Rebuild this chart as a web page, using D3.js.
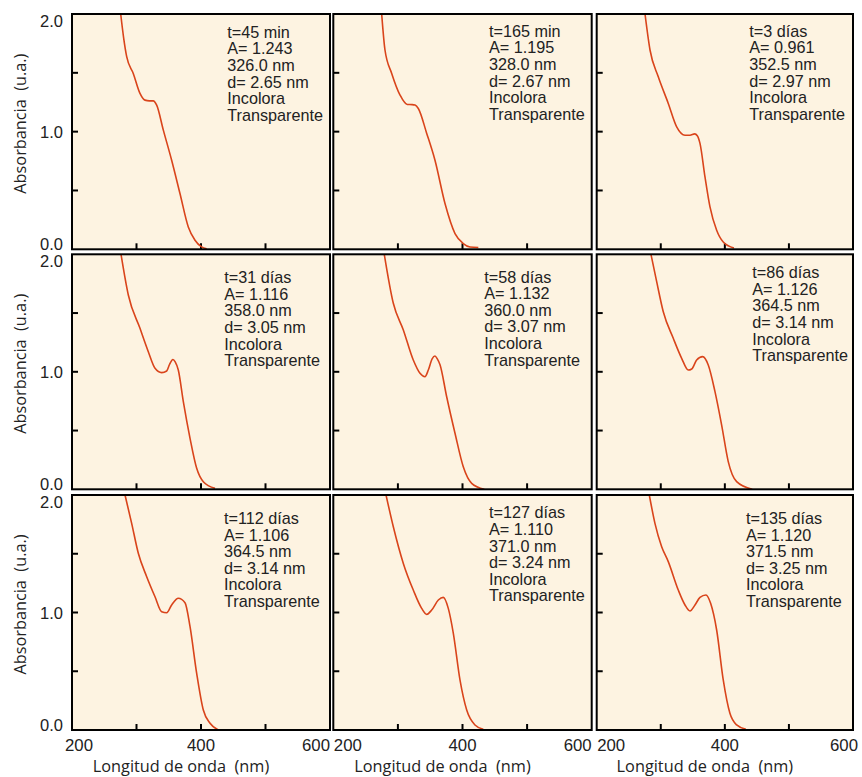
<!DOCTYPE html>
<html>
<head>
<meta charset="utf-8">
<script src="https://cdn.jsdelivr.net/npm/d3@7"></script>
<style>
  html, body { margin: 0; padding: 0; background: #ffffff; }
  svg { display: block; }
</style>
</head>
<body>
<div id="chart"></div>
<script>
// ---------------- DATA ----------------
const timeLabels = ["t=45 min", "t=165 min", "t=3 días", "t=31 días", "t=58 días", "t=86 días", "t=112 días", "t=127 días", "t=135 días"];
const peakAbs    = ["1.243", "1.195", "0.961", "1.116", "1.132", "1.126", "1.106", "1.110", "1.120"];
const peakNm     = ["326.0", "328.0", "352.5", "358.0", "360.0", "364.5", "364.5", "371.0", "371.5"];
const sizeNm     = ["2.65", "2.67", "2.97", "3.05", "3.07", "3.14", "3.14", "3.24", "3.25"];
const colorLabel = "Incolora";
const clarityLabel = "Transparente";
const xTitle = "Longitud de onda\u00A0\u00A0(nm)";
const yTitle = "Absorbancia\u00A0\u00A0(u.a.)";

const xTicksLabeled = [200, 400, 600];
const xTicksMinor = [300, 400, 500];
const yTicksLabeled = [0, 1, 2];
const yTicksMinor = [0.5, 1.0, 1.5];

// spectra: [wavelength (nm), absorbance]
const spec45min = [[275.5,2.0],[280,1.80],[284.8,1.637],[295,1.495],[305.4,1.325],[313.2,1.268],[320,1.262],[326,1.262],[331.3,1.225],[341.6,1.013],[354.5,0.757],[367.4,0.474],[380.3,0.19],[390.7,0.077],[401,0.02],[408.8,0.005]];
const spec165min = [[274.9,2.0],[280,1.694],[290.4,1.495],[303.3,1.311],[314.6,1.231],[322,1.230],[326.5,1.226],[331.6,1.197],[344.6,0.985],[357.4,0.757],[372.9,0.389],[388.4,0.134],[401.2,0.049],[411.6,0.02],[424.5,0.015]];
const spec3d   = [[275.4,2.0],[283.2,1.694],[296.1,1.466],[311.7,1.24],[324.8,1.041],[337.8,0.970],[345.6,0.97],[352.9,0.981],[357,0.965],[361.2,0.9],[369,0.615],[376.8,0.36],[387.2,0.162],[397.5,0.062],[414.2,0.011]];
const spec31d  = [[276,2.0],[287.3,1.654],[305.4,1.37],[318.3,1.171],[328.7,1.03],[339,0.993],[346.8,1.007],[351,1.06],[356.5,1.105],[360,1.085],[364.8,1.015],[372.6,0.746],[383,0.434],[393.3,0.179],[403.6,0.065],[421.7,0.009]];
const spec58d  = [[278.9,2.0],[292.9,1.583],[308.4,1.356],[323.8,1.1],[334.2,0.987],[341.9,0.958],[347.1,1.015],[353,1.11],[357.4,1.134],[361,1.11],[365.2,1.06],[375.5,0.788],[388.4,0.477],[401.2,0.192],[414.2,0.051],[433.7,0.0]];
const spec86d  = [[284.7,2.0],[293.6,1.767],[303.9,1.511],[319.5,1.285],[332.6,1.115],[342.9,1.015],[348.2,1.024],[356,1.1],[365.4,1.129],[374.1,1.058],[384.6,0.831],[395,0.547],[405.3,0.236],[418.4,0.065],[442.7,0.0]];
const spec112d = [[282.2,2.0],[292.5,1.759],[302.8,1.504],[315.8,1.305],[328.7,1.134],[339,1.007],[346.8,0.998],[354.5,1.064],[364.8,1.121],[375.2,1.083],[383,0.879],[393.3,0.482],[403.6,0.17],[414,0.057],[426.8,0.0]];
const spec127d = [[281.6,2.0],[292.9,1.73],[308.4,1.418],[323.8,1.191],[336.8,1.035],[344.6,0.984],[352.3,1.021],[362.6,1.106],[370.3,1.129],[378,1.035],[385.8,0.823],[396.1,0.426],[406.5,0.17],[419.3,0.043],[432.2,0.006]];
const spec135d = [[282.1,2.0],[290.9,1.759],[301.4,1.56],[311.7,1.433],[327.3,1.191],[337.8,1.064],[345.6,1.013],[353.4,1.064],[361.2,1.129],[370.5,1.149],[377.8,1.078],[387.2,0.851],[397.5,0.426],[407.9,0.142],[418.4,0.043],[432.9,0.006]];

const spectra = [spec45min, spec165min, spec3d, spec31d, spec58d, spec86d, spec112d, spec127d, spec135d];

// ---------------- LAYOUT ----------------
const W = 862, H = 777;
const colLeft  = [72, 333.3, 596.7];
const colRight = [330, 591.7, 853];
const rowTop    = [14, 254.3, 495];
const rowBottom = [249.3, 489.3, 730];
// annotation offsets (from panel top-left): [dx, first baseline dy]
const noteOffset = [[155.3,23.7],[155.7,22.7],[152.6,22.7],[152.3,29],[151,28.4],[155.6,24],[152,29],[155.7,23.3],[149.3,29]];
const lineStep = 16.6;

const bg = "#fdf3e1";
const curveColor = "#d9441b";
const textColor = "#222222";

const svg = d3.select("#chart").append("svg")
  .attr("width", W).attr("height", H)
  .attr("viewBox", `0 0 ${W} ${H}`);

svg.append("rect").attr("width", W).attr("height", H).attr("fill", "#ffffff");

const defs = svg.append("defs");

spectra.forEach((data, i) => {
  const r = Math.floor(i / 3), c = i % 3;
  const x0 = colLeft[c], x1 = colRight[c], y0 = rowTop[r], y1 = rowBottom[r];
  const w = x1 - x0, h = y1 - y0;
  const x = d3.scaleLinear().domain([200, 600]).range([0, w]);
  const y = d3.scaleLinear().domain([0, 2]).range([h, 0]);

  const g = svg.append("g").attr("transform", `translate(${x0},${y0})`);

  defs.append("clipPath").attr("id", "clip" + i)
    .append("rect").attr("x", 0).attr("y", 0).attr("width", w).attr("height", h);

  g.append("rect").attr("width", w).attr("height", h).attr("fill", bg);

  // ticks (inward)
  g.selectAll(".yt").data(yTicksMinor).enter().append("line")
    .attr("x1", 0).attr("x2", 6)
    .attr("y1", d => y(d)).attr("y2", d => y(d))
    .attr("stroke", "#000").attr("stroke-width", 2);
  g.selectAll(".xt").data(xTicksMinor).enter().append("line")
    .attr("x1", d => x(d)).attr("x2", d => x(d))
    .attr("y1", h).attr("y2", h - 6)
    .attr("stroke", "#000").attr("stroke-width", 2);

  // curve
  const line = d3.line().x(d => x(d[0])).y(d => y(d[1])).curve(d3.curveMonotoneX);
  g.append("path").datum(data)
    .attr("d", line)
    .attr("fill", "none")
    .attr("stroke", curveColor)
    .attr("stroke-width", 1.6)
    .attr("clip-path", `url(#clip${i})`);

  // frame
  g.append("rect").attr("width", w).attr("height", h)
    .attr("fill", "none").attr("stroke", "#000").attr("stroke-width", 2);

  // annotation
  const lines = [timeLabels[i], "A= " + peakAbs[i], peakNm[i] + " nm", "d= " + sizeNm[i] + " nm", colorLabel, clarityLabel];
  const t = g.append("text")
    .attr("font-family", "'Liberation Sans', Arial, sans-serif")
    .attr("font-size", 16.2)
    .attr("fill", textColor);
  lines.forEach((s, k) => {
    t.append("tspan").attr("x", noteOffset[i][0]).attr("y", noteOffset[i][1] + k * lineStep).text(s);
  });

  // y tick labels, first column
  if (c === 0) {
    yTicksLabeled.forEach(v => {
      let yy = y(v) + 6;
      if (v === 2) yy = y(v) + 12.5;
      if (v === 0) yy = y(v) + 1;
      g.append("text")
        .attr("x", -9).attr("y", yy)
        .attr("text-anchor", "end")
        .attr("font-family", "'Liberation Sans', Arial, sans-serif")
        .attr("font-size", 16.5)
        .attr("fill", textColor)
        .text(d3.format(".1f")(v));
    });
    g.append("text")
      .attr("transform", `translate(${26 - x0},${h / 2 - 8}) rotate(-90)`)
      .attr("text-anchor", "middle")
      .attr("font-family", "'Open Sans', 'Noto Sans', sans-serif")
      .attr("font-size", 16.3)
      .attr("fill", textColor)
      .text(yTitle);
  }

  // x tick labels, bottom row
  if (r === 2) {
    xTicksLabeled.forEach(v => {
      let anchor = "middle", xx = x(v);
      if (v === 200) { anchor = "start"; xx = c === 0 ? -7 : 0.5; }
      if (v === 600) { anchor = "end"; xx = c === 2 ? w + 5 : w; }
      g.append("text")
        .attr("x", xx).attr("y", h + 20.5)
        .attr("text-anchor", anchor)
        .attr("font-family", "'Liberation Sans', Arial, sans-serif")
        .attr("font-size", 16.8)
        .attr("fill", textColor)
        .text(v);
    });
    g.append("text")
      .attr("x", w / 2 - 20).attr("y", h + 42.3)
      .attr("text-anchor", "middle")
      .attr("font-family", "'Open Sans', 'Noto Sans', sans-serif")
      .attr("font-size", 16.3)
      .attr("fill", textColor)
      .text(xTitle);
  }
});
</script>
</body>
</html>
